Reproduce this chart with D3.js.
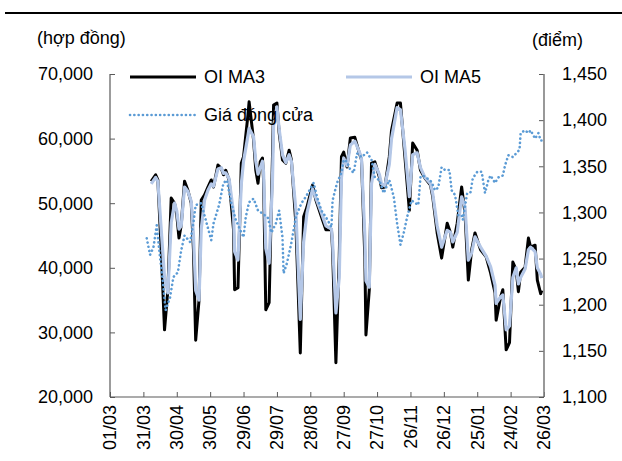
<!DOCTYPE html>
<html>
<head>
<meta charset="utf-8">
<script src="https://cdn.jsdelivr.net/npm/d3@7"></script>
<style>
  body { margin: 0; background: #fff; }
  svg { display: block; font-family: "Liberation Sans", Arial, sans-serif; }
</style>
</head>
<body>
<svg id="chart" width="622" height="461"></svg>
<script>
// Tick labels on the date axis
const tickDates = ['01/03/21', '31/03/21', '30/04/21', '30/05/21', '29/06/21', '29/07/21', '28/08/21',
  '27/09/21', '27/10/21', '26/11/21', '26/12/21', '25/01/22', '24/02/22', '26/03/22'];

// Open interest (contracts), moving averages
const oiDates = ['07/04/21', '11/04/21', '13/04/21', '16/04/21', '19/04/21', '22/04/21', '25/04/21', '28/04/21', '30/04/21',
  '02/05/21', '04/05/21', '07/05/21', '10/05/21', '13/05/21', '15/05/21', '17/05/21', '20/05/21', '22/05/21', '25/05/21',
  '28/05/21', '31/05/21', '02/06/21', '06/06/21', '09/06/21', '11/06/21', '13/06/21', '16/06/21', '20/06/21', '21/06/21',
  '24/06/21', '27/06/21', '29/06/21', '03/07/21', '04/07/21', '08/07/21', '10/07/21', '12/07/21', '14/07/21', '16/07/21',
  '17/07/21', '19/07/21', '22/07/21', '25/07/21', '26/07/21', '29/07/21', '31/07/21', '03/08/21', '06/08/21', '09/08/21',
  '11/08/21', '15/08/21', '19/08/21', '22/08/21', '25/08/21', '30/08/21', '02/09/21', '07/09/21', '11/09/21', '16/09/21',
  '17/09/21', '20/09/21', '23/09/21', '25/09/21', '27/09/21', '30/09/21', '03/10/21', '07/10/21', '11/10/21', '13/10/21',
  '16/10/21', '17/10/21', '20/10/21', '22/10/21', '25/10/21', '29/10/21', '31/10/21', '03/11/21', '07/11/21', '09/11/21',
  '14/11/21', '17/11/21', '21/11/21', '25/11/21', '28/11/21', '02/12/21', '05/12/21', '09/12/21', '14/12/21', '16/12/21',
  '20/12/21', '24/12/21', '29/12/21', '01/01/22', '03/01/22', '07/01/22', '11/01/22', '14/01/22', '17/01/22', '20/01/22',
  '23/01/22', '28/01/22', '02/02/22', '06/02/22', '10/02/22', '11/02/22', '15/02/22', '17/02/22', '20/02/22', '23/02/22',
  '26/02/22', '01/03/22', '03/03/22', '05/03/22', '09/03/22', '12/03/22', '14/03/22', '18/03/22', '20/03/22', '23/03/22',
  '24/03/22'];

const oiMA3 = [53400, 54400, 53600, 42800, 30400, 36600, 50800, 50000, 48200,
  44600, 46600, 53400, 52000, 50000, 42800, 28800, 35000, 50500, 51300,
  52500, 53600, 52500, 55900, 55400, 54400, 55100, 53600, 45900, 36600,
  36900, 56200, 57200, 63700, 65700, 59800, 55100, 53100, 56400, 57000,
  53600, 33500, 34600, 57200, 65200, 65500, 60900, 56700, 56200, 58200,
  56700, 46900, 26800, 47900, 49400, 52800, 50500, 47900, 45900, 45900,
  42800, 25300, 41700, 57200, 57900, 55600, 60100, 60200, 57800, 56700,
  41700, 29600, 36600, 56200, 56400, 54100, 52400, 52500, 57200, 61300,
  65500, 65500, 57200, 48900, 59300, 58200, 55100, 53900, 52800, 51000,
  45400, 41500, 46900, 45400, 43200, 46900, 52500, 48500, 38100, 42800,
  45400, 42800, 41700, 39200, 36100, 31900, 35500, 36600, 27300, 28400,
  40900, 39700, 36300, 39300, 40100, 44600, 43200, 43500, 38100, 36000,
  36500];

const oiMA5 = [53000, 54000, 53400, 46000, 38500, 36100, 47000, 50000, 48800,
  46000, 46500, 52500, 51800, 50300, 45000, 36500, 35000, 46000, 50500,
  52000, 53000, 52600, 55300, 55500, 54600, 54700, 53800, 48500, 42500,
  41200, 53000, 56500, 60500, 61600, 60300, 56500, 54500, 55500, 56500,
  54800, 43000, 40700, 53500, 62000, 64900, 61500, 57500, 56300, 57500,
  56500, 49000, 32000, 44000, 48500, 52200, 50800, 48500, 46500, 46000,
  44000, 33000, 38500, 54000, 57000, 55800, 59000, 59600, 58000, 56800,
  45000, 38000, 37000, 53000, 56000, 54500, 53000, 52700, 56000, 60000,
  64800, 64500, 58500, 51000, 57500, 57800, 55500, 54000, 53000, 51500,
  46500, 43200, 45800, 45500, 44000, 45500, 51000, 49500, 41200, 42300,
  44800, 43200, 41800, 40200, 37300, 34500, 35500, 35800, 30400, 31000,
  38500, 40000, 37500, 38500, 39800, 42800, 43200, 42500, 40000, 39000,
  38400];

// Closing price (points)
const priceDates = ['03/04/21', '06/04/21', '09/04/21', '12/04/21', '14/04/21', '18/04/21', '20/04/21', '24/04/21', '27/04/21',
  '01/05/21', '04/05/21', '07/05/21', '12/05/21', '15/05/21', '17/05/21', '22/05/21', '26/05/21', '31/05/21', '02/06/21',
  '07/06/21', '11/06/21', '14/06/21', '18/06/21', '22/06/21', '29/06/21', '01/07/21', '04/07/21', '08/07/21', '12/07/21',
  '16/07/21', '21/07/21', '24/07/21', '28/07/21', '31/07/21', '03/08/21', '04/08/21', '07/08/21', '11/08/21', '15/08/21',
  '20/08/21', '24/08/21', '31/08/21', '03/09/21', '07/09/21', '11/09/21', '16/09/21', '17/09/21', '21/09/21', '25/09/21',
  '27/09/21', '30/09/21', '03/10/21', '06/10/21', '09/10/21', '13/10/21', '18/10/21', '22/10/21', '25/10/21', '29/10/21',
  '02/11/21', '07/11/21', '11/11/21', '14/11/21', '17/11/21', '20/11/21', '23/11/21', '27/11/21', '03/12/21', '05/12/21',
  '07/12/21', '11/12/21', '15/12/21', '18/12/21', '21/12/21', '24/12/21', '27/12/21', '31/12/21', '02/01/22', '05/01/22',
  '08/01/22', '11/01/22', '12/01/22', '16/01/22', '19/01/22', '21/01/22', '25/01/22', '29/01/22', '01/02/22', '04/02/22',
  '06/02/22', '10/02/22', '13/02/22', '17/02/22', '19/02/22', '22/02/22', '26/02/22', '01/03/22', '04/03/22', '05/03/22',
  '09/03/22', '12/03/22', '14/03/22', '18/03/22', '21/03/22', '23/03/22', '26/03/22'];

const closePrice = [1272, 1254, 1262, 1286, 1262, 1219, 1194, 1208, 1230,
  1235, 1259, 1275, 1268, 1289, 1308, 1310, 1292, 1270, 1288,
  1308, 1332, 1335, 1310, 1292, 1273, 1295, 1311, 1315, 1302,
  1299, 1294, 1278, 1288, 1302, 1273, 1234, 1245, 1267, 1295,
  1310, 1317, 1332, 1317, 1302, 1295, 1284, 1313, 1332, 1343,
  1357, 1355, 1346, 1343, 1364, 1360, 1365, 1357, 1338, 1335,
  1321, 1335, 1317, 1288, 1265, 1278, 1295, 1313, 1308, 1338,
  1340, 1337, 1333, 1324, 1327, 1349, 1346, 1346, 1324, 1319,
  1297, 1297, 1292, 1321, 1322, 1337, 1344, 1344, 1321, 1335,
  1340, 1332, 1338, 1340, 1351, 1362, 1360, 1364, 1368, 1386,
  1389, 1386, 1389, 1380, 1386, 1378, 1378];

const leftTicks = [20000, 30000, 40000, 50000, 60000, 70000];
const rightTicks = [1100, 1150, 1200, 1250, 1300, 1350, 1400, 1450];

const parse = d3.timeParse('%d/%m/%y');
const fmtNum = d3.format(',');
const fontSize = 18;

const svg = d3.select('#chart');
const plot = { left: 110, right: 544, top: 74, bottom: 397 };

const x = d3.scaleTime()
  .domain([parse(tickDates[0]), parse(tickDates[tickDates.length - 1])])
  .range([plot.left, plot.right]);
const yL = d3.scaleLinear().domain([20000, 70000]).range([plot.bottom, plot.top]);
const yR = d3.scaleLinear().domain([1100, 1450]).range([plot.bottom, plot.top]);

const axisColor = '#595959';
const textColor = '#000';

// top rule
svg.append('line')
  .attr('x1', 5).attr('x2', 622).attr('y1', 13).attr('y2', 13)
  .attr('stroke', '#000').attr('stroke-width', 2);

// axis titles
svg.append('text').attr('x', 37).attr('y', 44)
  .attr('font-size', fontSize).attr('fill', textColor).text('(hợp đồng)');
svg.append('text').attr('x', 583).attr('y', 46).attr('text-anchor', 'end')
  .attr('font-size', fontSize).attr('fill', textColor).text('(điểm)');

// left axis
const gL = svg.append('g').attr('transform', `translate(${plot.left},0)`)
  .call(d3.axisRight(yL).tickValues(leftTicks).tickSize(5).tickFormat(''));
gL.select('.domain').remove();
gL.selectAll('line').attr('stroke', axisColor);
svg.append('g').selectAll('text').data(leftTicks).enter().append('text')
  .attr('x', 93).attr('y', d => yL(d)).attr('dy', '0.35em')
  .attr('text-anchor', 'end').attr('font-size', fontSize).attr('fill', textColor)
  .text(d => fmtNum(d));

// right axis
const gR = svg.append('g').attr('transform', `translate(${plot.right},0)`)
  .call(d3.axisLeft(yR).tickValues(rightTicks).tickSize(5).tickFormat(''));
gR.select('.domain').remove();
gR.selectAll('line').attr('stroke', axisColor);
svg.append('g').selectAll('text').data(rightTicks).enter().append('text')
  .attr('x', 562).attr('y', d => yR(d)).attr('dy', '0.35em')
  .attr('font-size', fontSize).attr('fill', textColor)
  .text(d => fmtNum(d));

// bottom axis
const gB = svg.append('g').attr('transform', `translate(0,${plot.bottom})`)
  .call(d3.axisTop(x).tickValues(tickDates.map(parse)).tickSize(5).tickFormat(''));
gB.select('.domain').remove();
gB.selectAll('line').attr('stroke', axisColor);
svg.append('g').selectAll('text').data(tickDates).enter().append('text')
  .attr('transform', d => `translate(${x(parse(d))},405) rotate(-90)`)
  .attr('dy', '0.35em').attr('text-anchor', 'end')
  .attr('font-size', fontSize).attr('fill', textColor)
  .text(d => d3.timeFormat('%d/%m')(parse(d)));

// axis lines
svg.append('line').attr('x1', plot.left).attr('x2', plot.left)
  .attr('y1', plot.top).attr('y2', plot.bottom).attr('stroke', axisColor).attr('stroke-width', 1.2);
svg.append('line').attr('x1', plot.right).attr('x2', plot.right)
  .attr('y1', plot.top).attr('y2', plot.bottom).attr('stroke', '#7f7f7f').attr('stroke-width', 1.6);
svg.append('line').attr('x1', plot.left).attr('x2', plot.right)
  .attr('y1', plot.bottom).attr('y2', plot.bottom).attr('stroke', axisColor).attr('stroke-width', 1.2);

// series
const oiLine = d3.line().x((d, i) => x(parse(oiDates[i]))).y(d => yL(d));
const priceLine = d3.line().x((d, i) => x(parse(priceDates[i]))).y(d => yR(d));

svg.append('path').datum(oiMA3)
  .attr('d', oiLine).attr('fill', 'none')
  .attr('stroke', '#000').attr('stroke-width', 3).attr('stroke-linejoin', 'round');
svg.append('path').datum(oiMA5)
  .attr('d', oiLine).attr('fill', 'none')
  .attr('stroke', '#b4c7e7').attr('stroke-width', 3.2).attr('stroke-linejoin', 'round');
svg.append('path').datum(closePrice)
  .attr('d', priceLine).attr('fill', 'none')
  .attr('stroke', '#5b9bd5').attr('stroke-width', 2.6)
  .attr('stroke-dasharray', '0.1 4.2').attr('stroke-linecap', 'round');

// legend
const legend = [
  { label: 'OI MA3', x: 130, y: 77, color: '#000', dash: null, w: 3 },
  { label: 'OI MA5', x: 346, y: 77, color: '#b4c7e7', dash: null, w: 3.2 },
  { label: 'Giá đóng cửa', x: 130, y: 115, color: '#5b9bd5', dash: '0.1 4.2', w: 2.6 }
];
const lg = svg.append('g').selectAll('g').data(legend).enter().append('g')
  .attr('transform', d => `translate(${d.x},${d.y})`);
lg.append('line').attr('x1', 0).attr('x2', 66)
  .attr('stroke', d => d.color).attr('stroke-width', d => d.w)
  .attr('stroke-dasharray', d => d.dash).attr('stroke-linecap', d => d.dash ? 'round' : 'butt');
lg.append('text').attr('x', 74).attr('dy', '0.35em')
  .attr('font-size', fontSize).attr('fill', textColor).text(d => d.label);
</script>
</body>
</html>
